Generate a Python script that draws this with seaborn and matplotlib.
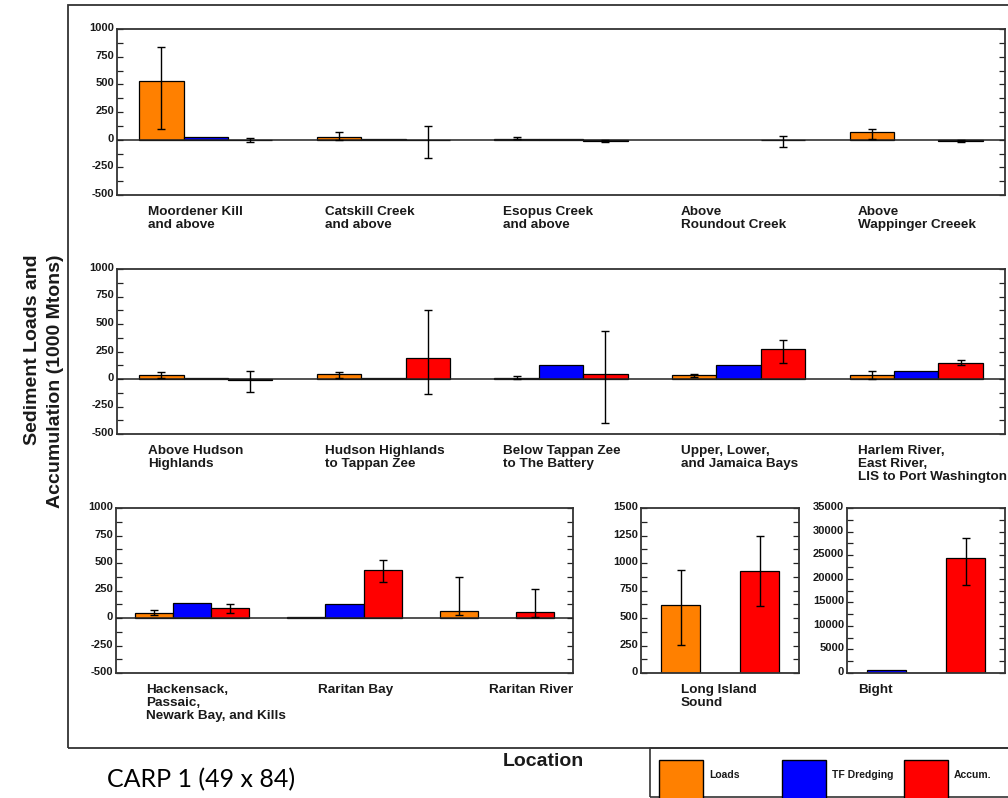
import numpy as np
import pandas as pd
import matplotlib
matplotlib.use("Agg")
import matplotlib.pyplot as plt
from matplotlib.patches import Rectangle
from matplotlib.transforms import ScaledTranslation
import seaborn as sns

nan = np.nan

SERIES = ["Loads", "TF Dredging", "Accum."]
PALETTE = {"Loads": "#FF8000", "TF Dredging": "#0000FF", "Accum.": "#FF0000"}

# --- Upper Hudson tributaries -------------------------------------------
upper_sites = ["Moordener Kill\nand above", "Catskill Creek\nand above",
               "Esopus Creek\nand above", "Above\nRoundout Creek",
               "Above\nWappinger Creeek"]
upper_loads = [530, 25, 10, nan, 65]
upper_loads_lo = [100, 0, 5, nan, 5]
upper_loads_hi = [835, 65, 22, nan, 100]
upper_dredging = [25, 10, 5, nan, nan]
upper_dredging_lo = [nan, nan, nan, nan, nan]
upper_dredging_hi = [nan, nan, nan, nan, nan]
upper_accum = [-5, -5, -12, -5, -10]
upper_accum_lo = [-18, -165, -20, -70, -18]
upper_accum_hi = [12, 125, -5, 36, -3]

# --- Lower Hudson and harbor ---------------------------------------------
middle_sites = ["Above Hudson\nHighlands", "Hudson Highlands\nto Tappan Zee",
                "Below Tappan Zee\nto The Battery", "Upper, Lower,\nand Jamaica Bays",
                "Harlem River,\nEast River,\nLIS to Port Washington"]
middle_loads = [35, 45, 8, 33, 33]
middle_loads_lo = [10, 12, 0, 22, 0]
middle_loads_hi = [65, 60, 25, 45, 73]
middle_dredging = [8, 8, 124, 124, 73]
middle_dredging_lo = [nan, nan, nan, nan, nan]
middle_dredging_hi = [nan, nan, nan, nan, nan]
middle_accum = [-5, 188, 45, 276, 149]
middle_accum_lo = [-118, -140, -399, 149, 124]
middle_accum_hi = [70, 626, 434, 358, 176]

# --- New Jersey side -----------------------------------------------------
lower_sites = ["Hackensack,\nPassaic,\nNewark Bay, and Kills", "Raritan Bay",
               "Raritan River"]
lower_loads = [48, 12, 61]
lower_loads_lo = [24, nan, 24]
lower_loads_hi = [75, nan, 369]
lower_dredging = [139, 124, nan]
lower_dredging_lo = [nan, nan, nan]
lower_dredging_hi = [nan, nan, nan]
lower_accum = [88, 433, 52]
lower_accum_lo = [48, 330, 9]
lower_accum_hi = [124, 524, 266]

# --- Long Island Sound ---------------------------------------------------
lis_sites = ["Long Island\nSound"]
lis_loads = [614]
lis_loads_lo = [251]
lis_loads_hi = [935]
lis_accum = [923]
lis_accum_lo = [608]
lis_accum_hi = [1243]

# --- New York Bight ------------------------------------------------------
bight_sites = ["Bight"]
bight_dredging = [600]
bight_dredging_lo = [nan]
bight_dredging_hi = [nan]
bight_accum = [24500]
bight_accum_lo = [18700]
bight_accum_hi = [28650]

BAR_WIDTH = 0.75
W, H = 1008, 798

sns.set_style("white")
plt.rcParams["font.family"] = ["Liberation Sans", "DejaVu Sans"]
plt.rcParams["font.weight"] = "bold"
plt.rcParams["text.color"] = "#1a1a1a"


def long_table(sites, columns):
    rows = []
    for name, (vals, lo, hi) in columns.items():
        for site, v, l, h in zip(sites, vals, lo, hi):
            rows.append(dict(site=site, series=name, value=v, lo=l, hi=h))
    return pd.DataFrame(rows)


def px_axes(fig, left, top, right, bottom):
    return fig.add_axes([left / W, 1 - bottom / H, (right - left) / W, (bottom - top) / H])


def draw_panel(fig, ax, df, sites, hue_order, ylim, major, minor, label_offsets, zero_line=True):
    bars = df.dropna(subset=["value"])
    sns.barplot(data=bars, x="site", y="value", hue="series", order=sites,
                hue_order=hue_order, palette=PALETTE, width=BAR_WIDTH, saturation=1,
                errorbar=None, edgecolor="black", linewidth=0.9, legend=False, ax=ax,
                zorder=2)

    step = BAR_WIDTH / len(hue_order)
    err = df.dropna(subset=["value", "lo", "hi"])
    xs = [sites.index(s) + (hue_order.index(h) - (len(hue_order) - 1) / 2) * step
          for s, h in zip(err["site"], err["series"])]
    ax.errorbar(xs, err["value"], yerr=[err["value"] - err["lo"], err["hi"] - err["value"]],
                fmt="none", ecolor="black", elinewidth=1.0, capsize=2.9, capthick=1.0,
                zorder=5)

    if zero_line:
        ax.axhline(0, color="#222222", lw=1.1, zorder=3)

    ax.set_xlim(-0.5, len(sites) - 0.5)
    ax.set_ylim(*ylim)
    ax.set_xlabel("")
    ax.set_ylabel("")

    majors = np.arange(ylim[0], ylim[1] + major / 2, major)
    ax.set_yticks(majors, [f"{t:.0f}" for t in majors], fontsize=8, fontweight="bold")
    ax.set_yticks(np.arange(ylim[0], ylim[1] + minor / 2, minor), minor=True)
    ax.tick_params(axis="y", which="both", direction="in", length=4.5, width=0.9,
                   left=True, right=True, labelright=False, color="#222222",
                   labelcolor="#1a1a1a", pad=2)

    ax.set_xticks([i + off for i, off in enumerate(label_offsets)], sites,
                  ha="left", fontsize=9.7, fontweight="bold", linespacing=1.1)
    ax.tick_params(axis="x", length=0, pad=7.8, labelcolor="#1a1a1a")

    for spine in ax.spines.values():
        spine.set_visible(True)
        spine.set_color("#333333")
        spine.set_linewidth(1.3)

    nudge = ScaledTranslation(0, 2 / 100, fig.dpi_scale_trans)
    for lbl in ax.get_yticklabels():
        lbl.set_transform(lbl.get_transform() + nudge)


fig = plt.figure(figsize=(W / 100, H / 100), dpi=100)

# outer frame
fig.patches.append(Rectangle((68 / W, 1 - 748 / H), (1030 - 68) / W, (748 - 5) / H,
                             transform=fig.transFigure, fill=False, ec="#333333",
                             lw=1.3, clip_on=False))

ax_up = px_axes(fig, 117, 29, 1005, 195)
draw_panel(fig, ax_up,
           long_table(upper_sites, {
               "Loads": (upper_loads, upper_loads_lo, upper_loads_hi),
               "TF Dredging": (upper_dredging, upper_dredging_lo, upper_dredging_hi),
               "Accum.": (upper_accum, upper_accum_lo, upper_accum_hi)}),
           upper_sites, SERIES, (-500, 1000), 250, 125, [-0.327] * 5)

ax_mid = px_axes(fig, 117, 269, 1005, 434)
draw_panel(fig, ax_mid,
           long_table(middle_sites, {
               "Loads": (middle_loads, middle_loads_lo, middle_loads_hi),
               "TF Dredging": (middle_dredging, middle_dredging_lo, middle_dredging_hi),
               "Accum.": (middle_accum, middle_accum_lo, middle_accum_hi)}),
           middle_sites, SERIES, (-500, 1000), 250, 125, [-0.327] * 5)

ax_low = px_axes(fig, 116, 508, 573, 673)
draw_panel(fig, ax_low,
           long_table(lower_sites, {
               "Loads": (lower_loads, lower_loads_lo, lower_loads_hi),
               "TF Dredging": (lower_dredging, lower_dredging_lo, lower_dredging_hi),
               "Accum.": (lower_accum, lower_accum_lo, lower_accum_hi)}),
           lower_sites, SERIES, (-500, 1000), 250, 125, [-0.305, -0.177, -0.049])

ax_lis = px_axes(fig, 641, 508, 799, 673)
draw_panel(fig, ax_lis,
           long_table(lis_sites, {
               "Loads": (lis_loads, lis_loads_lo, lis_loads_hi),
               "Accum.": (lis_accum, lis_accum_lo, lis_accum_hi)}),
           lis_sites, SERIES, (0, 1500), 250, 125, [-0.247], zero_line=False)

ax_bight = px_axes(fig, 847, 508, 1005, 673)
draw_panel(fig, ax_bight,
           long_table(bight_sites, {
               "TF Dredging": (bight_dredging, bight_dredging_lo, bight_dredging_hi),
               "Accum.": (bight_accum, bight_accum_lo, bight_accum_hi)}),
           bight_sites, ["TF Dredging", "Loads", "Accum."], (0, 35000), 5000, 2500,
           [-0.432], zero_line=False)

# shared axis titles
fig.text(44 / W, 1 - 254 / H, "Sediment Loads and\nAccumulation (1000 Mtons)",
         rotation=90, ha="center", va="top", multialignment="right",
         fontsize=14, fontweight="bold", linespacing=1.45)
fig.text(543 / W, 1 - 761 / H, "Location", ha="center", va="center",
         fontsize=14, fontweight="bold")
fig.text(107 / W, 1 - 780 / H, "CARP 1 (49 x 84)", ha="left", va="center",
         fontsize=18, fontweight="normal", family=["Lato", "DejaVu Sans"], color="black")

# legend box
fig.patches.append(Rectangle((650 / W, 1 - 797 / H), (1030 - 650) / W, (797 - 748) / H,
                             transform=fig.transFigure, fill=False, ec="#333333",
                             lw=1.2, clip_on=False))
for i, name in enumerate(SERIES):
    x0 = 659 + i * 122.5
    fig.patches.append(Rectangle((x0 / W, 1 - 802 / H), 44 / W, (802 - 760) / H,
                                 transform=fig.transFigure, fc=PALETTE[name],
                                 ec="black", lw=1.0))
    fig.text((x0 + 50) / W, 1 - 775 / H, name, ha="left", va="center",
             fontsize=7.5, fontweight="bold")

fig.savefig("out.png", dpi=100)
